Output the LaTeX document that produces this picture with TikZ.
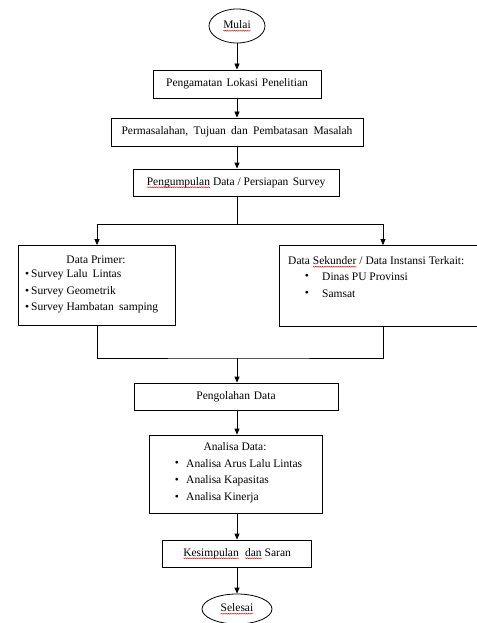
\documentclass[tikz,border=0pt]{standalone}
\usepackage{fontspec}
\setmainfont{Liberation Serif}
\usetikzlibrary{arrows.meta,shapes.geometric,decorations.pathmorphing}
\newcommand\spellwave[1]{\tikz[baseline=(sw.base)]{\node[shape=rectangle, draw=none, fill=none, minimum width=0pt, minimum height=0pt, inner sep=0pt, outer sep=0pt] (sw) {#1};
  \draw[red!85!black, line width=0.35pt, decorate, decoration={snake, amplitude=0.5pt, segment length=1.8pt}]
    ([yshift=-2.2pt]sw.base west) -- ([yshift=-2.2pt]sw.base east);}}
\begin{document}
\begin{tikzpicture}[x=1pt,y=-1pt,
  every node/.style={font=\fontsize{11.5}{13}\selectfont, inner sep=0pt},
  box/.style={draw, line width=0.8pt, minimum height=27pt},
  ell/.style={draw, ellipse, line width=0.8pt},
  ln/.style={line width=0.8pt},
  arr/.style={line width=0.8pt, -{Triangle[length=6pt,width=5pt]}},
  txt/.style={anchor=west}]
\useasboundingbox (0,0) rectangle (476,623);
\fill[white] (0,0) rectangle (476,623);
% nodes
\node[ell, minimum width=56pt, minimum height=34pt] (mulai) at (237,26) {\spellwave{Mulai}};
\node[box, minimum width=168pt, minimum height=28pt] (b1) at (237,84) {Pengamatan\hspace{1.5pt} Lokasi\hspace{1pt} Penelitian};
\node[box, minimum width=252pt, minimum height=28pt] (b2) at (237,132) {Permasalahan,\hspace{2.5pt} Tujuan\hspace{2.5pt} dan\hspace{2.5pt} Pembatasan\hspace{2.5pt} Masalah};
\node[box, minimum width=206pt] (b3) at (236,182.5) {\spellwave{Pengumpulan} Data / Persiapan\hspace{1.5pt} Survey};
\node[box, minimum width=157pt, minimum height=80pt] (prim) at (97,285.5) {};
\node[box, minimum width=200pt, minimum height=81pt] (sek) at (379,286) {};
\node[box, minimum width=204pt] (olah) at (236,396.5) {Pengolahan\hspace{1pt} Data};
\node[box, minimum width=173pt, minimum height=78pt] (anal) at (236,474) {};
\node[box, minimum width=149pt] (kes) at (237,553.5) {\spellwave{Kesimpulan}\hspace{3pt} \spellwave{dan} Saran};
\node[ell, minimum width=70pt, minimum height=30pt] (sel) at (237,609) {\spellwave{Selesai}};
% texts in left box
\node (tp) at (96,260) {Data Primer:};
\node[txt] (p1) at (25,275) {\textbullet\,Survey Lalu\hspace{2pt} Lintas};
\node[txt] (p2) at (25,292) {\textbullet\,Survey Geometrik};
\node[txt] (p3) at (25,308) {\textbullet\,Survey Hambatan\hspace{2.5pt} samping};
% texts in right box
\node[txt] (ts) at (288,262) {Data \spellwave{Sekunder} / Data Instansi Terkait:};
\node (sb1) at (307,277) {\textbullet};
\node[txt] (s1) at (322,277) {Dinas PU Provinsi};
\node (sb2) at (307,294) {\textbullet};
\node[txt] (s2) at (322,294) {Samsat};
% texts in analisa box
\node (ta) at (235,447) {Analisa Data:};
\node (ab1) at (177,464) {\textbullet};
\node[txt] (a1) at (186,464) {Analisa Arus Lalu Lintas};
\node (ab2) at (177,481) {\textbullet};
\node[txt] (a2) at (186,481) {Analisa Kapasitas};
\node (ab3) at (177,498) {\textbullet};
\node[txt] (a3) at (186,498) {Analisa Kinerja};
% connectors
\coordinate (j1) at (237,224);
\coordinate (jr) at (383,224);
\coordinate (j2) at (237,358);
\draw[arr] (mulai) -- (b1);
\draw[arr] (b1) -- (b2);
\draw[arr] (b2) -- (b3.north -| j1);
\draw[ln] (b3.south -| j1) -- (j1);
\draw[arr] (j1) -| (prim);
\draw[arr] (j1) -- (jr) -- (jr |- sek.north);
\draw[ln] (prim.south) |- (j2) -| (jr |- sek.south);
\draw[arr] (j2) -- (olah.north -| j2);
\draw[arr] (olah.south -| j2) -- (anal.north -| j2);
\draw[arr] (anal.south -| j2) -- (kes);
\draw[arr] (kes) -- (sel);
\end{tikzpicture}
\end{document}
